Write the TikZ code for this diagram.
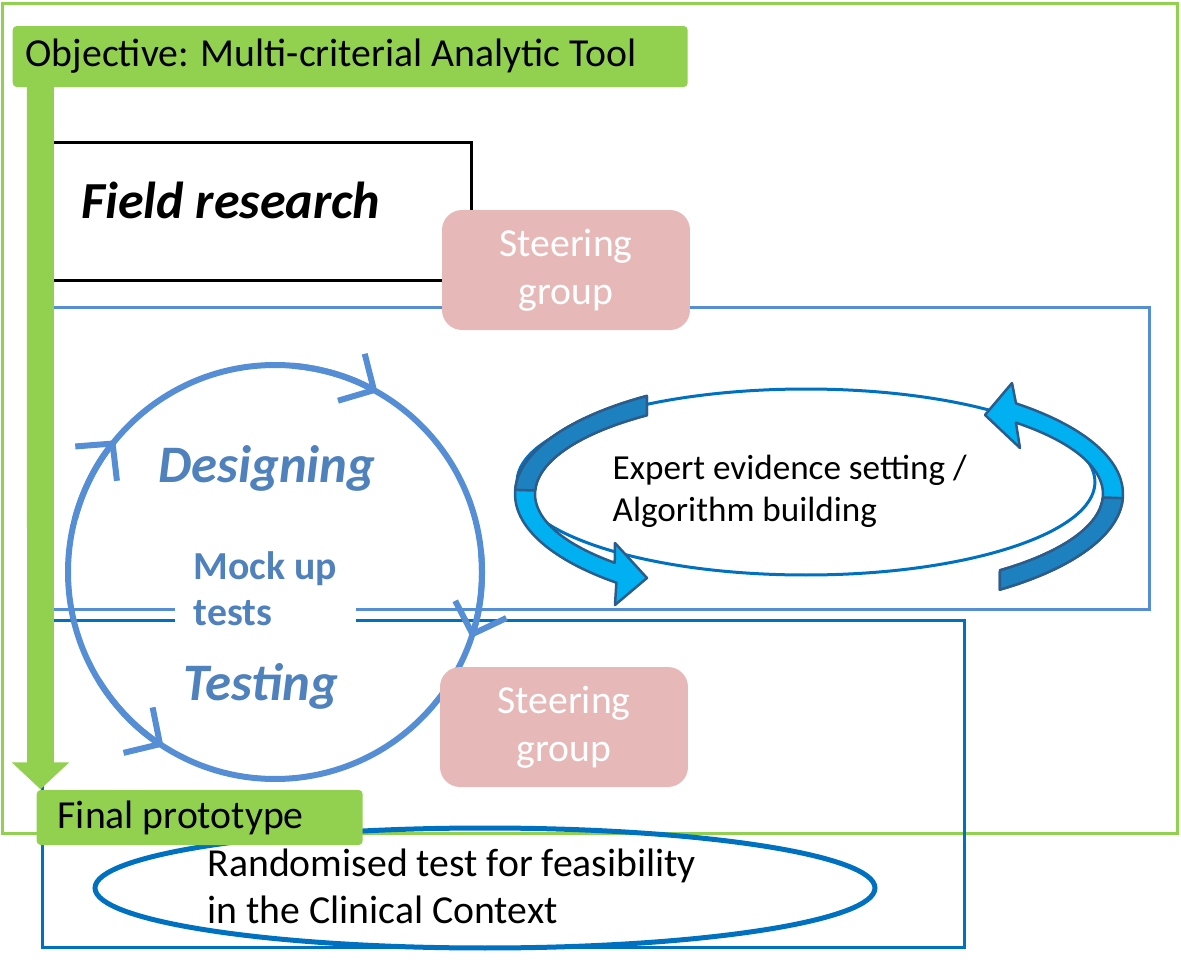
\documentclass[tikz,border=0pt]{standalone}
\usepackage{fontspec}
\setmainfont{Carlito}
\usetikzlibrary{arrows.meta,positioning,shapes.geometric,calc}
\definecolor{leaf}{HTML}{92D050}
\definecolor{skyline}{HTML}{558ED5}
\definecolor{deepblue}{HTML}{0070C0}
\definecolor{loopblue}{HTML}{4F81BD}
\definecolor{rose}{HTML}{E6B9B8}
\definecolor{cyanfill}{HTML}{00B0F0}
\definecolor{cyandark}{HTML}{1D80BF}
\definecolor{cyanedge}{HTML}{2C5C8C}

\begin{document}
\begin{tikzpicture}[x=0.1mm, y=0.1mm,
  bar/.style={fill=leaf, rounded corners=0.4mm, anchor=west, align=flush left, inner ysep=0pt, font=\fontsize{11.3}{13.7}\selectfont},
  steer/.style={fill=rose, rounded corners=2mm, minimum width=24.8mm, minimum height=12mm, align=center, text=white, font=\fontsize{11.3}{13.7}\selectfont},
  phase/.style={font=\fontsize{15}{18}\selectfont\bfseries\itshape, text=loopblue},
  loopline/.style={draw=skyline, line width=0.6mm},
  barb/.style={loopline, line cap=round, line join=round, -{Straight Barb[length=2.6mm, width=5.4mm, line width=0.6mm]}},
  flow/.style={draw=leaf, line width=2.7mm, -{Triangle[length=2.7mm, width=5.6mm]}},
  band/.style={fill=cyanfill, draw=cyanedge, line width=0.25mm, line join=round},
  plain/.style={font=\fontsize{11.3}{13.4}\selectfont, align=left, anchor=west, inner sep=0pt}
]
\useasboundingbox (0,0) rectangle (1181,962);
% frames
\draw[leaf, line width=0.3mm] (3,129) rectangle (1178,959);
\draw[skyline, line width=0.3mm] (45,353) rectangle (1150,655);
\draw[deepblue, line width=0.3mm] (43,15) rectangle (965,342);
\node[draw=black, line width=0.3mm, anchor=west, minimum height=13.8mm, text width=35.5mm, text depth=2.2mm, inner xsep=3.5mm, align=flush left,
  font=\fontsize{14.8}{18}\selectfont\bfseries\itshape] (field) at (45,751) {Field research};

% expert loop
\node[ellipse, draw=deepblue, line width=0.3mm, minimum width=57.8mm, minimum height=18.6mm] (expert) at (806,480) {};
\coordinate (ring) at (819,468);
\filldraw[band] ($(ring)+(124.5:304 and 119)$) arc[start angle=124.5, end angle=228.2, x radius=304, y radius=119]
  -- (615,357) -- (647,384) -- (615,419)
  -- ($(ring)+(224:284 and 99)$) arc[start angle=224, end angle=127.3, x radius=284, y radius=99] -- cycle;
\filldraw[band, fill=cyandark] ($(ring)+(124.5:304 and 119)$) arc[start angle=124.5, end angle=178, x radius=304, y radius=119]
  -- ($(ring)+(178:284 and 99)$) arc[start angle=178, end angle=127.3, x radius=284, y radius=99] -- cycle;
\filldraw[band] ($(ring)+(-53.5:304 and 119)$) arc[start angle=-53.5, end angle=49.6, x radius=304, y radius=119]
  -- (1012,579) -- (985,547) -- (1020,514)
  -- ($(ring)+(46.1:284 and 99)$) arc[start angle=46.1, end angle=-50.4, x radius=284, y radius=99] -- cycle;
\filldraw[band, fill=cyandark] ($(ring)+(-53.5:304 and 119)$) arc[start angle=-53.5, end angle=-2, x radius=304, y radius=119]
  -- ($(ring)+(-2:284 and 99)$) arc[start angle=-2, end angle=-50.4, x radius=284, y radius=99] -- cycle;
\node[plain, font=\fontsize{10}{12}\selectfont] (experttxt) at (612,471) {Expert evidence setting /\\Algorithm building};

% design / test cycle
\coordinate (cyc) at (275,390);
\draw[loopline] (cyc) circle[radius=207];
\draw[barb] ($(cyc)+(165:207)$) arc[start angle=165, end angle=140.5, radius=207];
\draw[barb] ($(cyc)+(85:207)$) arc[start angle=85, end angle=60.3, radius=207];
\draw[barb] ($(cyc)+(5:207)$) arc[start angle=5, end angle=-18.6, radius=207];
\draw[barb] ($(cyc)+(212:207)$) arc[start angle=212, end angle=237.4, radius=207];
\node[fill=white, align=left, inner xsep=1.9mm, inner ysep=1mm, text=loopblue,
  font=\fontsize{11.3}{13}\selectfont\bfseries] (mock) at (265.5,373) {Mock up\\tests};
\node[phase] (design) at (267,494) {Designing};
\node[phase] (test) at (261,276) {Testing};

\node[steer] (steerA) at (566,692) {Steering\\group};
\node[steer] (steerB) at (564,235) {Steering\\group};

% trial
\node[ellipse, draw=deepblue, line width=0.5mm, minimum width=78mm, minimum height=12mm] (trial) at (485,74) {};
\node[plain] (trialtxt) at (207,76) {Randomised test for feasibility\\in the Clinical Context};

% objective and outcome
\node[bar, text width=64.9mm, inner xsep=1.3mm, minimum height=6.1mm] (obj) at (12,905.5) {Objective: Multi-criterial Analytic Tool};
\node[bar, text width=28.4mm, inner xsep=2.1mm, minimum height=5.5mm] (fin) at (36,144.5) {Final prototype};
\draw[flow] ([xshift=2.85mm, yshift=0.5mm]obj.south west) -- ([xshift=0.45mm]fin.north west);
\end{tikzpicture}
\end{document}
